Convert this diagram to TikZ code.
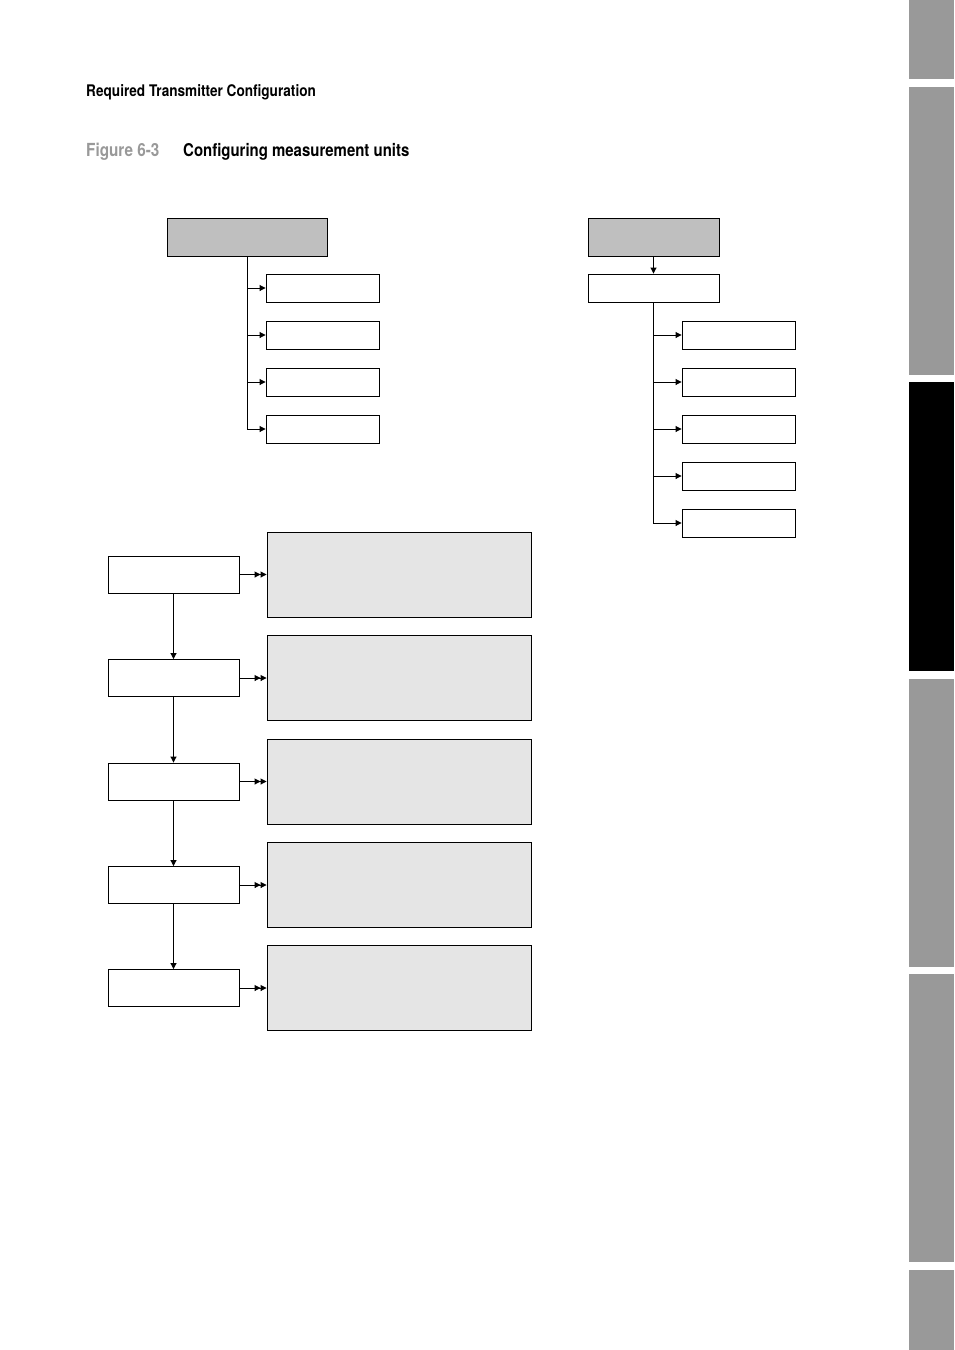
\documentclass[tikz,border=0pt]{standalone}
\usepackage{fontspec}
\setmainfont{TeX Gyre Heros}[FakeStretch=0.85]
\usetikzlibrary{arrows.meta}
\tikzset{topbox/.style={draw, line width=0.9pt, fill=black!25, inner sep=0pt, minimum height=38pt}}
\tikzset{subbox/.style={draw, line width=0.9pt, fill=white, inner sep=0pt, minimum width=113pt, minimum height=28pt}}
\tikzset{stepbox/.style={draw, line width=0.9pt, fill=white, inner sep=0pt, minimum width=131pt, minimum height=37pt}}
\tikzset{notebox/.style={draw, line width=0.9pt, fill=black!10, inner sep=0pt, minimum width=264pt, minimum height=85pt}}
\tikzset{arr/.style={line width=0.9pt, -{Triangle[length=6pt,width=6pt]}}}
\tikzset{darr/.style={line width=0.9pt, -{Triangle[length=6pt,width=6pt]Triangle[length=6pt,width=6pt]}}}
\tikzset{tab/.style={fill=black!40, draw=none}}

\begin{document}
\begin{tikzpicture}[x=1pt, y=-1pt]
    \useasboundingbox (0,0) rectangle (954,1350);
    \fill[tab] (909,0) rectangle (954,79);
    \fill[tab] (909,87) rectangle (954,375);
    \fill[black] (909,382) rectangle (954,671);
    \fill[tab] (909,679) rectangle (954,967);
    \fill[tab] (909,974) rectangle (954,1262);
    \fill[tab] (909,1270) rectangle (954,1350);

    \node[anchor=base west, inner sep=0pt, font=\bfseries\fontsize{16}{19}\selectfont] (head) at (86,96) {Required Transmitter Configuration};
    \node[anchor=base west, inner sep=0pt, font=\bfseries\fontsize{18}{21}\selectfont, text=black!40] (fignum) at (86,156) {Figure 6-3};
    \node[anchor=base west, inner sep=0pt, font=\bfseries\fontsize{17.6}{21}\selectfont] (figtitle) at (183,156) {Configuring measurement units};

    \node[topbox, minimum width=160pt] (ltop) at (247,237) {};
    \foreach \i/\y in {1/288, 2/335, 3/382, 4/429} {
        \node[subbox] (lsub\i) at (322.5,\y) {};
        \draw[arr] (ltop.south) |- (lsub\i.west);
    }

    \node[topbox, minimum width=131pt] (rtop) at (653.5,237) {};
    \node[subbox, minimum width=131pt] (rmid) at (653.5,288) {};
    \draw[arr] (rtop) -- (rmid);
    \foreach \i/\y in {1/335, 2/382, 3/429, 4/476, 5/523} {
        \node[subbox] (rsub\i) at (738.5,\y) {};
        \draw[arr] (rmid.south) |- (rsub\i.west);
    }

    \foreach \i/\y in {1/574.5, 2/678, 3/781.5, 4/885, 5/988} {
        \node[stepbox] (step\i) at (173.5,\y) {};
        \node[notebox] (note\i) at (399,\y) {};
        \draw[darr] (step\i) -- (note\i);
    }
    \foreach \i/\j in {1/2, 2/3, 3/4, 4/5} {
        \draw[arr] (step\i) -- (step\j);
    }
\end{tikzpicture}
\end{document}
